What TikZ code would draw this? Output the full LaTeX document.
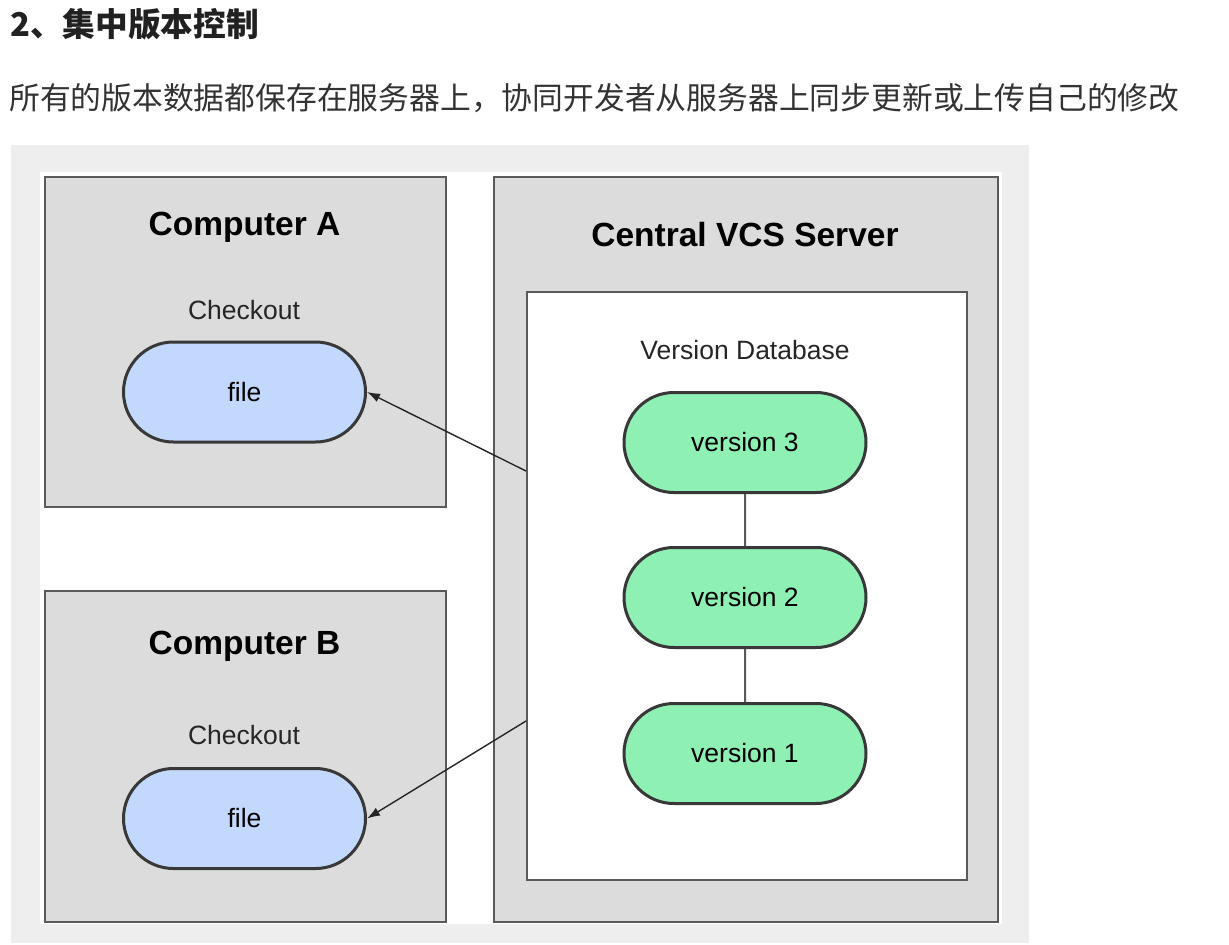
\documentclass[tikz,border=0pt]{standalone}
\usepackage{fontspec}
\setmainfont{Liberation Sans}
\newfontfamily\cjk{Noto Sans CJK SC}
\usetikzlibrary{shapes.misc,arrows.meta,positioning}
\definecolor{bandgray}{HTML}{EEEEEE}
\definecolor{boxgray}{HTML}{DCDCDC}
\definecolor{edgegray}{HTML}{5A5A5A}
\definecolor{fileblue}{HTML}{C2D8FC}
\definecolor{versiongreen}{HTML}{8FF0B4}
\definecolor{pilledge}{HTML}{383838}

\begin{document}
\begin{tikzpicture}[x=1pt, y=-1pt, >={Latex[length=13pt,width=9pt]},
    box/.style={draw=edgegray, line width=1.7pt, inner sep=0pt, anchor=north west},
    pill/.style={rounded rectangle, draw=pilledge, line width=3pt, minimum width=242pt,
        minimum height=100pt, inner sep=0pt, font=\fontsize{26.5}{30}\selectfont},
    heading/.style={anchor=base, inner sep=0pt, font=\bfseries\fontsize{33.5}{40}\selectfont},
    caption/.style={anchor=base, inner sep=0pt, font=\fontsize{26.5}{30}\selectfont, text=black!85}]
    \useasboundingbox (0,0) rectangle (1229,945);
    % page text
    \node[anchor=west, inner sep=0pt, text=black!87,
        font=\cjk\bfseries\fontsize{32.7}{38}\selectfont] (title) at (10,24) {2、集中版本控制};
    \node[anchor=west, inner sep=0pt, text=black!80,
        font=\cjk\fontsize{30.8}{36}\selectfont] (intro) at (9,98)
        {所有的版本数据都保存在服务器上，协同开发者从服务器上同步更新或上传自己的修改};
    % picture frame
    \fill[bandgray] (11,145) rectangle (1029,943);
    \fill[white] (40,172) rectangle (1002,924);
    % computers
    \node[box, fill=boxgray, minimum width=401pt, minimum height=330pt] (compA) at (44,176) {};
    \node[box, fill=boxgray, minimum width=401pt, minimum height=331pt] (compB) at (44,590) {};
    \node[heading] (nameA) at (244.5,235) {Computer A};
    \node[heading] (nameB) at (244.5,654) {Computer B};
    \node[caption] (coA) at (244,319) {Checkout};
    \node[caption] (coB) at (244,744.3) {Checkout};
    \node[pill, fill=fileblue] (fileA) at (244.5,392) {file};
    \node[pill, fill=fileblue] (fileB) at (244.5,818.5) {file};
    % server
    \node[box, fill=boxgray, minimum width=504pt, minimum height=745pt] (server) at (493,176) {};
    \node[heading] (nameS) at (745,246.7) {Central VCS Server};
    \node[box, fill=white, minimum width=440pt, minimum height=588pt] (db) at (526,291) {};
    \node[caption] (dbname) at (745,359) {Version Database};
    \node[pill, fill=versiongreen] (v3) at (745,442.5) {version 3};
    \node[pill, fill=versiongreen, below=52pt of v3] (v2) {version 2};
    \node[pill, fill=versiongreen, below=53pt of v2] (v1) {version 1};
    \draw[edgegray, line width=2pt] (v3) -- (v2);
    \draw[edgegray, line width=2pt] (v2) -- (v1);
    % checkouts
    \coordinate (outA) at (526,471);
    \coordinate (outB) at (526,721);
    \draw[->, line width=1.4pt, black!85] (outA) -- (fileA.east);
    \draw[->, line width=1.4pt, black!85] (outB) -- (fileB.east);
\end{tikzpicture}
\end{document}
